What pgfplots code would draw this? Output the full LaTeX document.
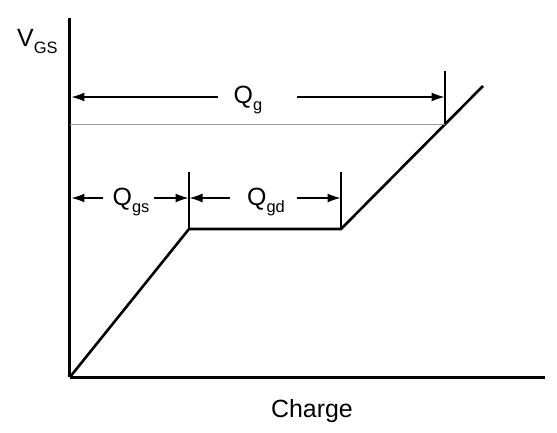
\documentclass[border=0pt]{standalone}
\usepackage{fontspec}
\setmainfont{Liberation Sans}
\usepackage{pgfplots}
\pgfplotsset{compat=1.18}
\usetikzlibrary{arrows.meta}
\newcommand{\sub}[1]{\raisebox{-0.32em}{\fontsize{16.5}{16.5}\selectfont #1}}
\begin{document}
\begin{tikzpicture}
\begin{axis}[
  x=1bp, y=1bp,
  xmin=70, xmax=545, ymin=55, ymax=414,
  axis lines=left,
  axis line style={-, line width=3bp, black},
  xtick=\empty, ytick=\empty,
  clip=false,
]
\path (axis cs:0,0) rectangle (axis cs:557,432);
% gate charge curve
\addplot[black, line width=2.6bp] coordinates {(70,55) (189,203) (341,203) (483,346)};
% thin reference line at Vgs drive
\addplot[gray!80, line width=0.8bp] coordinates {(70,308) (445,308)};
% vertical markers
\draw[line width=1.2bp] (axis cs:445,308) -- (axis cs:445,361);
\draw[line width=1.2bp] (axis cs:189,203) -- (axis cs:189,260);
\draw[line width=1.2bp] (axis cs:341,203) -- (axis cs:341,260);
% Qg arrows
\draw[line width=1.3bp, -{Latex[length=13bp,width=9bp]}] (axis cs:218,335) -- (axis cs:71.5,335);
\draw[line width=1.3bp, -{Latex[length=13bp,width=9bp]}] (axis cs:297,335) -- (axis cs:444.5,335);
% Qgs arrows
\draw[line width=1.3bp, -{Latex[length=13bp,width=9bp]}] (axis cs:103,234) -- (axis cs:71.5,234);
\draw[line width=1.3bp, -{Latex[length=13bp,width=9bp]}] (axis cs:154,234) -- (axis cs:188.5,234);
% Qgd arrows
\draw[line width=1.3bp, -{Latex[length=13bp,width=9bp]}] (axis cs:230,234) -- (axis cs:189.5,234);
\draw[line width=1.3bp, -{Latex[length=13bp,width=9bp]}] (axis cs:297,234) -- (axis cs:340.5,234);
% labels
\node[anchor=base, inner sep=0pt, font=\fontsize{25}{25}\selectfont] at (axis cs:248,329) {Q\sub{g}};
\node[anchor=base, inner sep=0pt, font=\fontsize{25}{25}\selectfont] at (axis cs:131,227) {Q\sub{gs}};
\node[anchor=base, inner sep=0pt, font=\fontsize{25}{25}\selectfont] at (axis cs:266,227) {Q\sub{gd}};
\node[anchor=base west, inner sep=0pt, font=\fontsize{25}{25}\selectfont] at (axis cs:17,386) {V\sub{GS}};
\node[anchor=base, inner sep=0pt, font=\fontsize{25}{25}\selectfont] at (axis cs:312,15) {Charge};
\end{axis}
\end{tikzpicture}
\end{document}
